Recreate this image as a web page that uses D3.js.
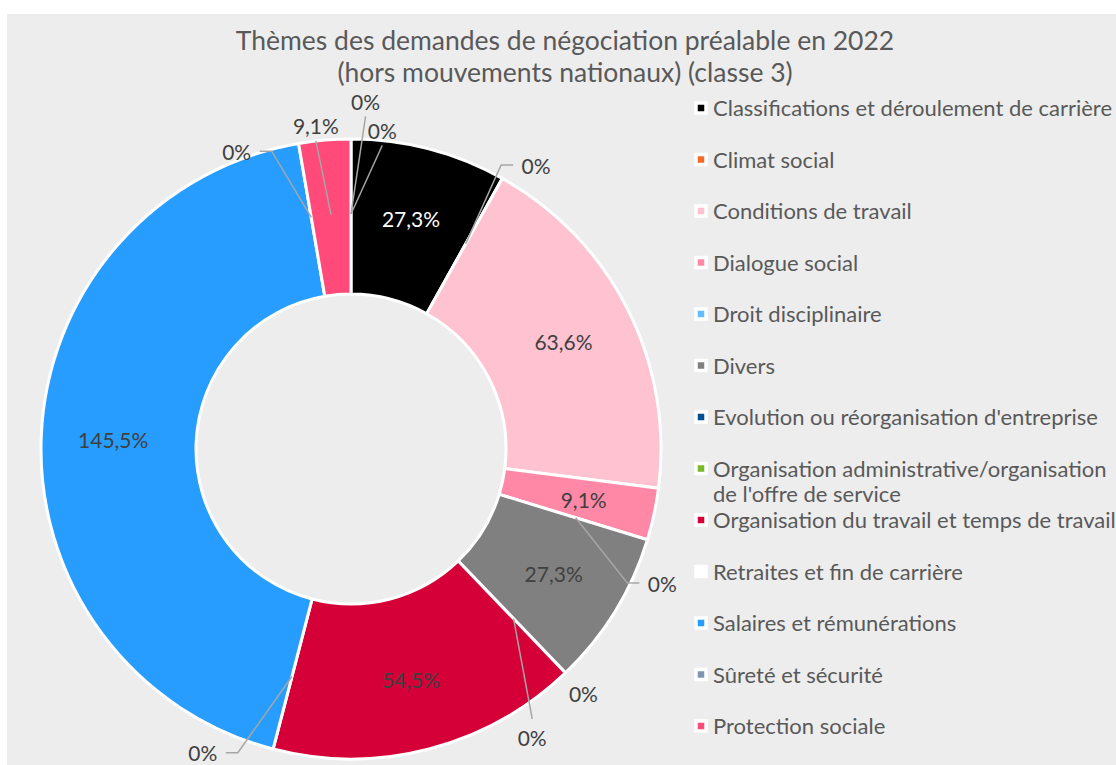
<!DOCTYPE html>
<html lang="fr">
<head>
<meta charset="utf-8">
<script src="https://cdn.jsdelivr.net/npm/d3@7"></script>
<style>
  html, body { margin: 0; padding: 0; background: #ffffff; }
  svg { display: block; font-family: Lato, "Open Sans", sans-serif; }
</style>
</head>
<body>
<svg id="chart" width="1116" height="765"></svg>
<script>
// Thèmes des demandes de négociation préalable, 2022 (classe 3)
const categories = [
  "Classifications et déroulement de carrière",
  "Climat social",
  "Conditions de travail",
  "Dialogue social",
  "Droit disciplinaire",
  "Divers",
  "Evolution ou réorganisation d'entreprise",
  "Organisation administrative/organisation de l'offre de service",
  "Organisation du travail et temps de travail",
  "Retraites et fin de carrière",
  "Salaires et rémunérations",
  "Sûreté et sécurité",
  "Protection sociale",
  "Autres thèmes",
  "Non renseigné"
];
const values = [27.3, 0, 63.6, 9.1, 0, 27.3, 0, 0, 54.5, 0, 145.5, 0, 9.1, 0, 0];
const colors = [
  "#000000", "#F26B2B", "#FFC2D1", "#FF88A6", "#66BBFF", "#808080",
  "#00508F", "#7AB929", "#D50037", "#FFFFFF", "#269DFF", "#7F96B2",
  "#FF4A7A", "#A5A5A5", "#FFC000"
];
// entries shown in the legend (the first 13 themes)
const legendCount = 13;
const legendLines = [
  ["Classifications et déroulement de carrière"],
  ["Climat social"],
  ["Conditions de travail"],
  ["Dialogue social"],
  ["Droit disciplinaire"],
  ["Divers"],
  ["Evolution ou réorganisation d'entreprise"],
  ["Organisation administrative/organisation", "de l'offre de service"],
  ["Organisation du travail et temps de travail"],
  ["Retraites et fin de carrière"],
  ["Salaires et rémunérations"],
  ["Sûreté et sécurité"],
  ["Protection sociale"]
];
const titleLines = [
  "Thèmes des demandes de négociation préalable en 2022",
  "(hors mouvements nationaux) (classe 3)"
];

// Outside label placement (angle in degrees clockwise from top, radius, leader style)
const outsideLabels = {
  1:  { a: 33.1,  r: 339, leader: "side" },
  4:  { a: 113.3, r: 339, leader: "side" },
  6:  { a: 136.4, r: 337, leader: "none" },
  7:  { a: 147.9, r: 341, leader: "end" },
  9:  { a: 206.0, r: 338, leader: "side" },
  11: { a: 339.0, r: 319, leader: "side" },
  12: { a: 353.8, r: 325, leader: "end" },
  13: { a: 2.4,   r: 348, leader: "end" },
  14: { a: 5.6,   r: 320, leader: "end" }
};

const W = 1116, H = 765;
const cx = 351, cy = 449;
const outerR = 310, innerR = 155, labelR = 238, anchorR = 235;
const textColor = "#404040";
const greyText = "#595959";

const svg = d3.select("#chart");

svg.append("rect")
  .attr("x", 7).attr("y", 14)
  .attr("width", W - 7).attr("height", H - 14)
  .attr("fill", "#EDEDED");

// Title
svg.append("g").selectAll("text")
  .data(titleLines)
  .join("text")
  .attr("x", 565)
  .attr("y", (d, i) => 40 + i * 32)
  .attr("text-anchor", "middle")
  .attr("dominant-baseline", "central")
  .attr("fill", greyText)
  .style("font-size", "26.5px")
  .text(d => d);

// Donut
const data = categories.map((c, i) => ({ name: c, value: values[i], color: colors[i], index: i }));
const pie = d3.pie().sort(null).value(d => d.value).startAngle(0).endAngle(2 * Math.PI);
const arcs = pie(data);
const arc = d3.arc().innerRadius(innerR).outerRadius(outerR);

const g = svg.append("g").attr("transform", `translate(${cx},${cy})`);

g.selectAll("path.slice")
  .data(arcs.filter(d => d.data.value > 0))
  .join("path")
  .attr("class", "slice")
  .attr("d", arc)
  .attr("fill", d => d.data.color)
  .attr("stroke", "#FFFFFF")
  .attr("stroke-width", 3)
  .attr("stroke-linejoin", "round");

const polar = (deg, r) => {
  const a = deg * Math.PI / 180;
  return [r * Math.sin(a), -r * Math.cos(a)];
};
const fmt = v => v === 0 ? "0%" : d3.format(".1f")(v).replace(".", ",") + "%";

const labelLayer = g.append("g");
const leaderLayer = g.append("g")
  .attr("fill", "none")
  .attr("stroke", "#A6A6A6")
  .attr("stroke-width", 1.5);

arcs.forEach(d => {
  const i = d.data.index;
  const mid = (d.startAngle + d.endAngle) / 2 * 180 / Math.PI;
  const out = outsideLabels[i];
  let lx, ly;
  if (out) {
    [lx, ly] = polar(out.a, out.r);
    const [ax, ay] = polar(mid, anchorR);
    let pts = null;
    if (out.leader === "side") {
      const s = lx > 0 ? -1 : 1;
      pts = [[ax, ay], [lx + s * 35, ly], [lx + s * 23, ly]];
    } else if (out.leader === "end") {
      pts = [[ax, ay], [lx, ly < ay ? ly + 15 : ly - 19]];
    }
    if (pts) {
      leaderLayer.append("path").attr("d", d3.line()(pts));
    }
  } else {
    [lx, ly] = polar(mid, labelR);
  }
  labelLayer.append("text")
    .attr("x", lx).attr("y", ly)
    .attr("text-anchor", "middle")
    .attr("dominant-baseline", "central")
    .attr("fill", d.data.color === "#000000" ? "#FFFFFF" : textColor)
    .style("font-size", "21px")
    .text(fmt(d.data.value));
});

// Legend
const legend = svg.append("g");
const rowH = 51.5, legendTop = 107;
const items = legend.selectAll("g.item")
  .data(data.slice(0, legendCount))
  .join("g")
  .attr("class", "item")
  .attr("transform", (d, i) => `translate(0,${legendTop + i * rowH})`);

items.append("rect")
  .attr("x", 696).attr("y", -4)
  .attr("width", 10).attr("height", 10)
  .attr("fill", d => d.color)
  .attr("stroke", "#FFFFFF")
  .attr("stroke-width", 3.5);

items.append("text")
  .attr("x", 713)
  .attr("fill", greyText)
  .attr("dominant-baseline", "central")
  .style("font-size", "22px")
  .selectAll("tspan")
  .data((d, i) => legendLines[i])
  .join("tspan")
  .attr("x", 713)
  .attr("y", (t, j) => j * 25)
  .text(t => t);
</script>
</body>
</html>
